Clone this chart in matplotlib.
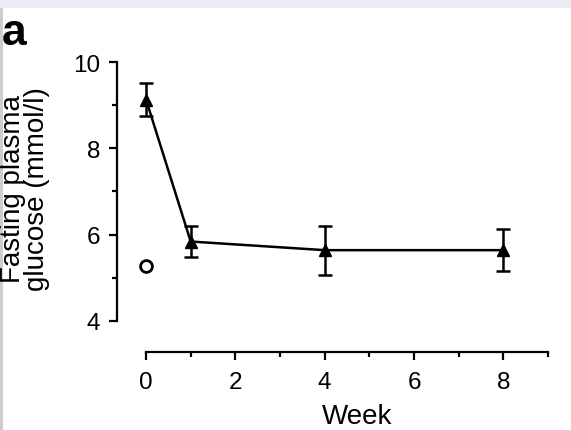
import matplotlib
matplotlib.use("Agg")
import matplotlib.pyplot as plt
from matplotlib.patches import Rectangle

weeks = [0, 1, 4, 8]
glucose = [9.13, 5.84, 5.64, 5.64]
glucose_err = [0.39, 0.35, 0.57, 0.48]
control_week = [0]
control_glucose = [5.28]
xticks = [0, 2, 4, 6, 8]
yticks = [4, 6, 8, 10]

plt.rcParams['font.family'] = ['Liberation Sans', 'DejaVu Sans']

W, H = 571, 431
fig = plt.figure(figsize=(W / 100, H / 100), dpi=100)
fig.patch.set_facecolor('white')
# decorative page background
fig.add_artist(Rectangle((0, 1 - 9 / H), 1, 9 / H, transform=fig.transFigure,
                         facecolor='#e9edf2', edgecolor='none', zorder=0))
fig.add_artist(Rectangle((0, 0), 3 / W, 1 - 9 / H, transform=fig.transFigure,
                         facecolor='#cdcdcd', edgecolor='none', zorder=0))

left_px, right_px = 117, 548
bottom_px, top_px = 353, 63
ax = fig.add_axes([left_px / W, (H - bottom_px) / H,
                   (right_px - left_px) / W, (bottom_px - top_px) / H])
ax.set_facecolor('none')
ax.set_xlim(-0.65, 9)
ax.set_ylim(3.28, 10)

ax.errorbar(weeks, glucose, yerr=glucose_err, color='black', lw=1.8,
            marker='^', ms=8.5, capsize=5, capthick=1.8, elinewidth=1.8,
            zorder=3, clip_on=False)
ax.plot(control_week, control_glucose, linestyle='none', marker='o', ms=8.5,
        mfc='white', mec='black', mew=2.0, zorder=3)

for s in ['top', 'right']:
    ax.spines[s].set_visible(False)
ax.spines['left'].set_bounds(4, 10)
ax.spines['bottom'].set_bounds(0, 9)
for s in ['left', 'bottom']:
    ax.spines[s].set_linewidth(1.6)

ax.set_xticks(xticks)
ax.set_xticks([1, 3, 5, 7, 9], minor=True)
ax.set_yticks(yticks)
ax.set_yticks([5, 7, 9], minor=True)
ax.tick_params(which='major', length=6, width=1.6, labelsize=17.5, direction='out')
ax.tick_params(which='minor', length=3.5, width=1.6, direction='out')
ax.tick_params(axis='y', which='major', pad=6)
ax.tick_params(axis='x', which='major', pad=8)

fig.text(357 / W, 1 - 424 / H, 'Week', ha='center', va='baseline', fontsize=20)
fig.text(25 / W, 1 - 189 / H, 'Fasting plasma\nglucose (mmol/l)', rotation=90,
         ha='center', va='center', fontsize=20, linespacing=0.88)
fig.text(2 / W, 1 - 45 / H, 'a', fontsize=32, fontweight='bold',
         ha='left', va='baseline')

fig.savefig('out.png', dpi=100)
